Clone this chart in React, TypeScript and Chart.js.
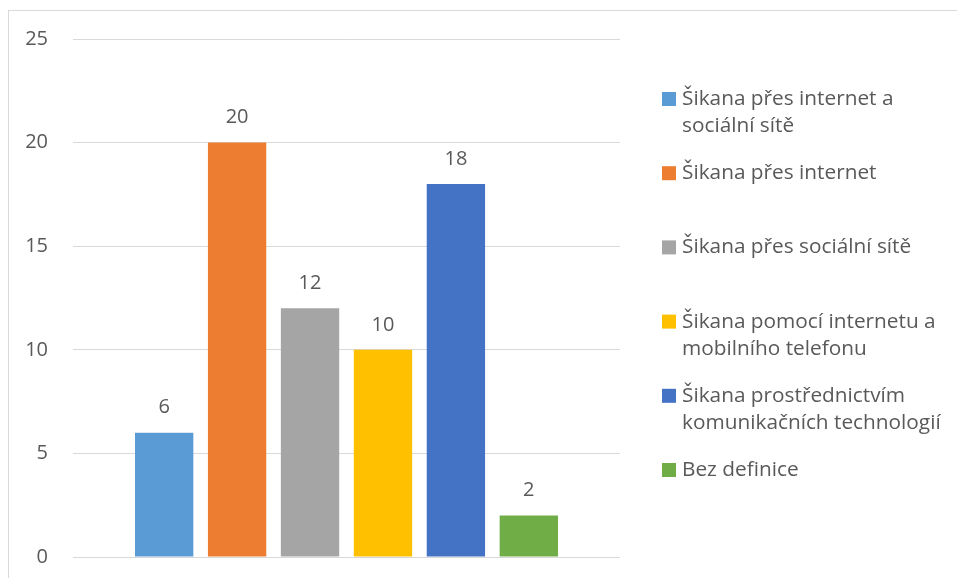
import React, { useEffect, useRef } from "react";
import { Chart, registerables } from "chart.js";

Chart.register(...registerables);

const categories = [""];
const seriesLegendLines: string[][] = [
  ["Šikana přes internet a", "sociální sítě"],
  ["Šikana přes internet"],
  ["Šikana přes sociální sítě"],
  ["Šikana pomocí internetu a", "mobilního telefonu"],
  ["Šikana prostřednictvím", "komunikačních technologií"],
  ["Bez definice"],
];
const seriesValues = [6, 20, 12, 10, 18, 2];
const seriesColors = ["#5B9BD5", "#ED7D31", "#A5A5A5", "#FFC000", "#4472C4", "#70AD47"];
const yTicks = [0, 5, 10, 15, 20, 25];

const FONT = "'Open Sans', 'Noto Sans', sans-serif";
const TEXT = "#595959";

const valueLabels = {
  id: "valueLabels",
  afterDatasetsDraw(chart: any) {
    const ctx = chart.ctx;
    ctx.save();
    ctx.font = `20px ${FONT}`;
    ctx.fillStyle = TEXT;
    ctx.textAlign = "center";
    ctx.textBaseline = "middle";
    chart.data.datasets.forEach((ds: any, i: number) => {
      const meta = chart.getDatasetMeta(i);
      meta.data.forEach((el: any, j: number) => {
        ctx.fillText(String(ds.data[j]), el.x, el.y - 25);
      });
    });
    ctx.restore();
  },
};

const sideLegend = {
  id: "sideLegend",
  afterDraw(chart: any) {
    const ctx = chart.ctx;
    const area = chart.chartArea;
    ctx.save();
    ctx.font = `20.8px ${FONT}`;
    ctx.textBaseline = "middle";
    ctx.textAlign = "left";
    const x0 = area.right + 42;
    const y0 = area.top + 60;
    const step = 74.2;
    seriesLegendLines.forEach((lines, i) => {
      const cy = y0 + i * step;
      ctx.fillStyle = seriesColors[i];
      ctx.fillRect(x0, cy - 7, 14, 14);
      ctx.fillStyle = TEXT;
      lines.forEach((ln, k) => {
        ctx.fillText(ln, x0 + 20, cy + k * 27);
      });
    });
    ctx.restore();
  },
};

export default function App() {
  const ref = useRef<HTMLCanvasElement>(null);
  useEffect(() => {
    if (!ref.current) return;
    const chart = new Chart(ref.current, {
      type: "bar",
      data: {
        labels: categories,
        datasets: seriesValues.map((v, i) => ({
          label: seriesLegendLines[i].join(" "),
          data: [v],
          backgroundColor: seriesColors[i],
          borderWidth: 0,
          categoryPercentage: 0.8,
          barPercentage: 0.8,
        })),
      },
      options: {
        animation: false,
        responsive: false,
        maintainAspectRatio: false,
        layout: { padding: { left: 0, top: 39, right: 337, bottom: 21 } },
        plugins: {
          legend: { display: false },
          tooltip: { enabled: false },
        },
        scales: {
          x: { display: false },
          y: {
            min: 0,
            max: 25,
            afterBuildTicks: (s: any) => {
              s.ticks = yTicks.map((v) => ({ value: v }));
            },
            afterFit: (s: any) => {
              s.width = 73;
              s.paddingTop = 0;
              s.paddingBottom = 0;
            },
            border: { display: false },
            grid: { color: "#D9D9D9", lineWidth: 1, drawTicks: false },
            ticks: {
              padding: 25,
              color: TEXT,
              font: { family: FONT, size: 20 },
            },
          },
        },
      },
      plugins: [valueLabels, sideLegend],
    });
    return () => chart.destroy();
  }, []);
  return (
    <div style={{ position: "fixed", left: 0, top: 0, width: 957, height: 578, overflow: "hidden", background: "#fff" }}>
      <div
        style={{
          position: "absolute",
          left: 8,
          top: 10,
          width: 1200,
          height: 1200,
          border: "1px solid #D9D9D9",
          boxSizing: "border-box",
        }}
      />
      <canvas ref={ref} width={957} height={578} style={{ position: "absolute", left: 0, top: 0, width: 957, height: 578 }} />
    </div>
  );
}
